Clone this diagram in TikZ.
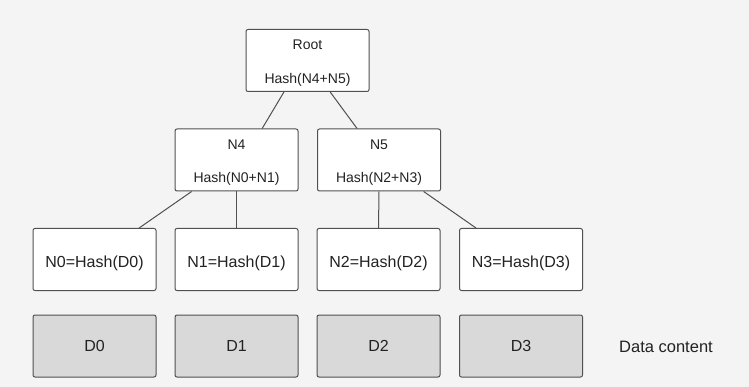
\documentclass[tikz,border=0pt]{standalone}
\usepackage{fontspec}
\setmainfont{Liberation Sans}
\usetikzlibrary{calc}
\definecolor{bgc}{HTML}{F4F4F4}
\definecolor{edgec}{HTML}{505050}
\definecolor{dfill}{HTML}{D9D9D9}
\definecolor{txt}{HTML}{222222}
\tikzset{
  hbox/.style={draw=edgec, line width=1pt, rounded corners=2pt, fill=white,
    minimum width=123pt, minimum height=62pt, inner sep=0pt},
  dbox/.style={hbox, fill=dfill},
  link/.style={draw=edgec, line width=1pt},
  small/.style={text=txt, font=\fontsize{14pt}{17pt}\selectfont, inner sep=0pt, anchor=base},
  big/.style={text=txt, font=\fontsize{16pt}{19pt}\selectfont, inner sep=0pt, anchor=base}
}
\begin{document}
\begin{tikzpicture}[x=1pt,y=-1pt]
\fill[bgc] (0,0) rectangle (749,387);
\useasboundingbox (0,0) rectangle (749,387);
% top levels
\node[hbox] (root) at (307.5,60.5) {};
\node[small] (roott) at (307.5,50) {Root};
\node[small] (rooth) at (307.5,84) {Hash(N4+N5)};
\node[hbox] (n4) at (236.5,160) {};
\node[small] (n4t) at (236.5,150) {N4};
\node[small] (n4h) at (236.5,183) {Hash(N0+N1)};
\node[hbox] (n5) at (379,160) {};
\node[small] (n5t) at (379,150) {N5};
\node[small] (n5h) at (379,183) {Hash(N2+N3)};
% leaves
\node[hbox] (n0) at (94.5,259.5) {};
\node[big] (n0t) at (94.5,268) {N0=Hash(D0)};
\node[hbox] (n1) at (236.5,259.5) {};
\node[big] (n1t) at (236.5,268) {N1=Hash(D1)};
\node[hbox] (n2) at (378.5,259.5) {};
\node[big] (n2t) at (378.5,268) {N2=Hash(D2)};
\node[hbox] (n3) at (521,259.5) {};
\node[big] (n3t) at (521,268) {N3=Hash(D3)};
% data
\node[dbox] (d0) at (94.5,346) {};
\node[big] (d0t) at (94.5,351.5) {D0};
\node[dbox] (d1) at (236.5,346) {};
\node[big] (d1t) at (236.5,351.5) {D1};
\node[dbox] (d2) at (378.5,346) {};
\node[big] (d2t) at (378.5,351.5) {D2};
\node[dbox] (d3) at (521,346) {};
\node[big] (d3t) at (521,351.5) {D3};
\node[big, font=\fontsize{16.5pt}{19pt}\selectfont] (dc) at (666,352) {Data content};
% connectors
\draw[link] ($(root.south west)!0.31!(root.south east)$) -- ($(n4.north west)!0.707!(n4.north east)$);
\draw[link] ($(root.south west)!0.683!(root.south east)$) -- ($(n5.north west)!0.323!(n5.north east)$);
\draw[link] ($(n4.south west)!0.138!(n4.south east)$) -- ($(n0.north west)!0.86!(n0.north east)$);
\draw[link] (n4.south) -- (n1.north);
\draw[link] (n5.south) -- (n2.north);
\draw[link] ($(n5.south west)!0.86!(n5.south east)$) -- ($(n3.north west)!0.137!(n3.north east)$);
\end{tikzpicture}
\end{document}
